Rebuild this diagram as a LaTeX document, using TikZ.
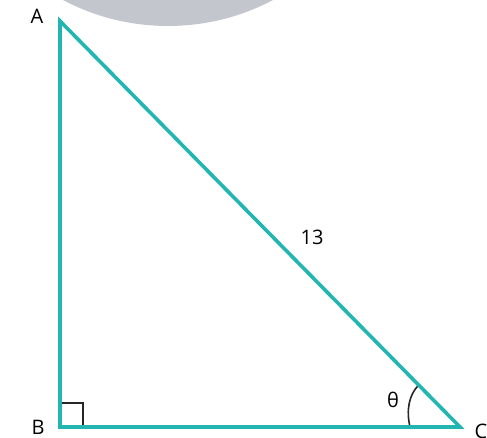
\documentclass[tikz,border=0pt]{standalone}
\usepackage{fontspec}
\setmainfont{Open Sans}
\begin{document}
\begin{tikzpicture}[x=1pt,y=-1pt,
  lbl/.style={font=\fontsize{20}{22}\selectfont, text=black, inner sep=0pt},
  thin/.style={draw=black!85, line width=1.6pt}]
\definecolor{tealline}{HTML}{22B5B2}
\useasboundingbox (0,0) rectangle (487,438);
\begin{scope}
\clip (0,0) rectangle (487,438);
\fill[color={rgb,255:red,195;green,198;blue,204}] (168,-199) circle (225);
\end{scope}
\coordinate (A) at (60,21);
\coordinate (B) at (60,427);
\coordinate (C) at (460,427);
\coordinate (t1) at (410,427);
\coordinate (t2) at (418.6,385);
\draw[thin] (60,403) -- (83,403) -- (83,427);
\draw[thin] (t1) .. controls (406,410) and (409,395) .. (t2);
\draw[draw=tealline, line width=3.6pt, line join=miter, miter limit=20] (A) -- (B) -- (C) -- cycle;
\node[lbl] (la) at (37,16) {A};
\node[lbl] (lb) at (38,427) {B};
\node[lbl] (lc) at (481,431) {C};
\node[lbl] (lt) at (393,400) {θ};
\node[lbl] (l13) at (312,237) {13};
\end{tikzpicture}
\end{document}
